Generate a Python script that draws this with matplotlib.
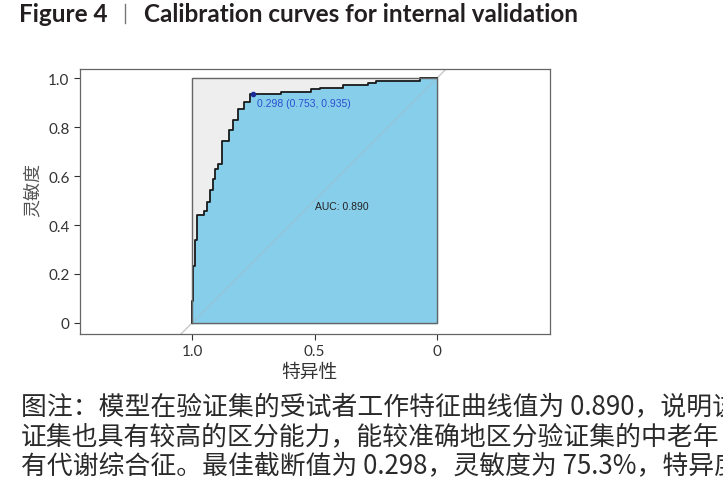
import matplotlib
matplotlib.use('Agg')
import matplotlib.pyplot as plt
from matplotlib.lines import Line2D

# ROC curve vertices (steps, specificity decreasing)
specificity = [1.0, 0.995, 0.989, 0.978, 0.950, 0.937, 0.927, 0.916, 0.906, 0.893,
               0.879, 0.848, 0.831, 0.811, 0.788, 0.763, 0.635, 0.513, 0.479, 0.384,
               0.282, 0.248, 0.071, 0.0]
sensitivity = [0.0, 0.091, 0.234, 0.337, 0.439, 0.459, 0.493, 0.541, 0.589, 0.629,
               0.650, 0.741, 0.786, 0.827, 0.875, 0.902, 0.936, 0.943, 0.954, 0.960,
               0.970, 0.981, 0.986, 1.0]
best_cut = 0.298
best_spec = 0.753
best_sens = 0.935
auc = 0.890

yticks = [0, 0.2, 0.4, 0.6, 0.8, 1.0]
ytick_labels = ['0', '0.2', '0.4', '0.6', '0.8', '1.0']
xticks = [1.0, 0.5, 0]
xtick_labels = ['1.0', '0.5', '0']

# caption lines as shown (cut at the right edge of the page)
caption = ['图注：模型在验证集的受试者工作特征曲线值为 0.890，说明该',
           '证集也具有较高的区分能力，能较准确地区分验证集的中老年',
           '有代谢综合征。最佳截断值为 0.298，灵敏度为 75.3%，特异度为']

cjk = ['Noto Sans CJK SC', 'DejaVu Sans']

fig = plt.figure(figsize=(7.23, 4.89), dpi=100)
ax = fig.add_axes([80/723, 1-335/489, 470/723, 265/489])

# background square
ax.fill_between([1, 0], [0, 0], [1, 1], color='#eeeeee', zorder=1)
ax.plot([1, 0, 0, 1, 1], [0, 0, 1, 1, 0], color='#666666', lw=1, zorder=4)
# area under the curve
ax.fill_between(specificity, sensitivity, 0, step='pre', color='#87ceeb', zorder=2)
ax.axline((1, 0), (0, 1), color='#c8c8c8', lw=1, zorder=1.5)
ax.plot([1, 0], [0, 1], color='#9fb8c4', lw=0.8, alpha=0.6, zorder=2.5)
ax.plot(specificity, sensitivity, drawstyle='steps-pre', color='#1a1a1a', lw=1.3, zorder=3)
ax.plot([best_spec], [best_sens], 'o', color='#1a2a9a', ms=3, zorder=5)
ax.text(0.735, 0.9, '{0:.3f} ({1:.3f}, {2:.3f})'.format(best_cut, best_spec, best_sens),
        color='#2a4fd0', fontsize=7.5, family='Liberation Sans', va='center', zorder=6)
ax.text(0.5, 0.478, 'AUC: {0:.3f}'.format(auc), color='#222222', fontsize=7.5,
        family='Liberation Sans', va='center', zorder=6)

ax.set_xlim(1.457, -0.461)
ax.set_ylim(-0.045, 1.037)
ax.set_yticks(yticks)
ax.set_yticklabels(ytick_labels)
ax.set_xticks(xticks)
ax.set_xticklabels(xtick_labels)
ax.tick_params(labelsize=11, colors='#333333', length=4, width=0.8)
for lab in ax.get_xticklabels() + ax.get_yticklabels():
    lab.set_family('Lato')
for s in ax.spines.values():
    s.set_color('#666666')
    s.set_linewidth(0.9)
ax.set_ylabel('灵敏度', family=cjk, fontsize=13, color='#555555')
ax.yaxis.set_label_coords(-0.081, 0.547)
ax.set_xlabel('特异性', family=cjk, fontsize=13.5, color='#333333')
ax.xaxis.set_label_coords(0.489, -0.1)

fig.text(19/723, 1-22/489, 'Figure 4', family='Lato', weight='bold', fontsize=17.5,
         color='#231f20', va='baseline')
fig.add_artist(Line2D([125/723, 125/723], [1-5/489, 1-24/489], color='#777777', lw=1))
fig.text(144/723, 1-22/489, 'Calibration curves for internal validation', family='Lato',
         weight='bold', fontsize=17.5, color='#231f20', va='baseline')

for i, line in enumerate(caption):
    fig.text(21/723, 1-(407+30*i)/489, line, family=cjk, fontsize=18.6,
             color='#2a2a2a', va='center')

fig.savefig('out.png', dpi=100)
